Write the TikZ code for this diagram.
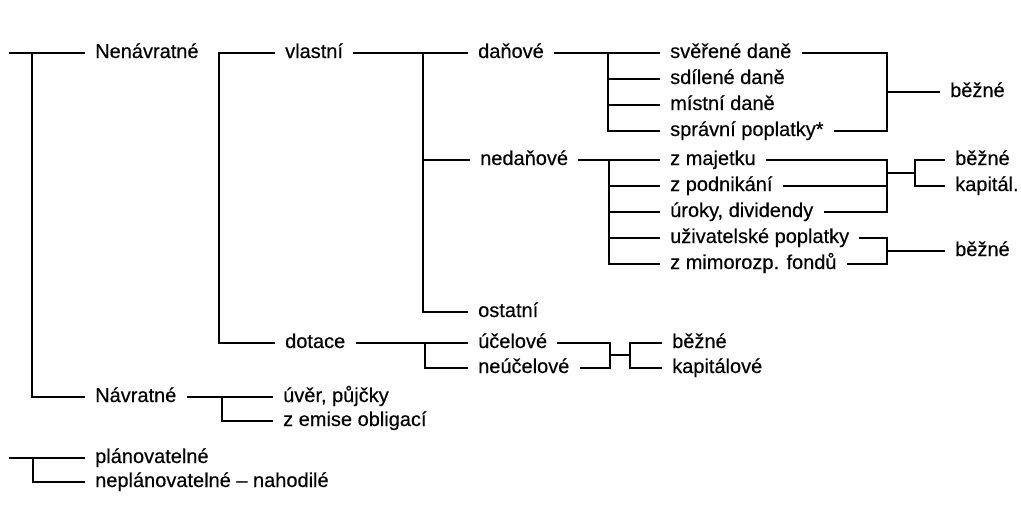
\documentclass[tikz,border=0pt]{standalone}
\usepackage{fontspec}
\setmainfont[FakeBold=0.3]{Liberation Sans}
\begin{document}
\begin{tikzpicture}[x=1pt,y=-1pt,
  lbl/.style={anchor=west,inner xsep=11pt,inner ysep=0pt,text height=10pt,text depth=0pt,font=\fontsize{20}{24}\selectfont},
  ln/.style={line width=1.8pt,line cap=rect}]
\path[use as bounding box,fill=white] (0,0) rectangle (1021,507);
% labels
\node[lbl] (nen)  at (84,53)  {Nenávratné};
\node[lbl] (nav)  at (84,397) {Návratné};
\node[lbl] (vl)   at (274,53) {vlastní};
\node[lbl] (dot)  at (274,343) {dotace};
\node[lbl] (uver) at (272,397) {úvěr, půjčky};
\node[lbl] (emise) at (272,421) {z emise obligací};
\node[lbl] (dan)  at (467,53) {daňové};
\node[lbl] (ned)  at (469,160) {nedaňové};
\node[lbl] (ost)  at (467,312) {ostatní};
\node[lbl] (uc)   at (467,343) {účelové};
\node[lbl] (neuc) at (467,368) {neúčelové};
\node[lbl] (sv)   at (659,53) {svěřené daně};
\node[lbl] (sd)   at (659,79) {sdílené daně};
\node[lbl] (mi)   at (659,105) {místní daně};
\node[lbl] (sp)   at (659,131) {správní poplatky*};
\node[lbl] (zm)   at (659,160) {z majetku};
\node[lbl] (zp)   at (659,186) {z podnikání};
\node[lbl] (ur)   at (659,212) {úroky, dividendy};
\node[lbl] (uz)   at (659,238) {uživatelské poplatky};
\node[lbl] (zmi)  at (659,264) {z mimorozp. fondů};
\node[lbl] (b1)   at (939,92)  {běžné};
\node[lbl] (b2)   at (944,160) {běžné};
\node[lbl] (kap)  at (944,186) {kapitál.};
\node[lbl] (b3)   at (944,251) {běžné};
\node[lbl] (b4)   at (661,343) {běžné};
\node[lbl] (kapv) at (661,368) {kapitálové};
\node[lbl] (plan) at (84,458) {plánovatelné};
\node[lbl] (nepl) at (84,482) {neplánovatelné – nahodilé};
% junction coordinates
\coordinate (t0) at (10,53);
\coordinate (t1) at (32,53);
\coordinate (j2) at (219,53);
\coordinate (j3) at (423,53);
\coordinate (j4) at (608,53);
\coordinate (j5) at (609,160);
\coordinate (j6) at (222,397);
\coordinate (j7) at (425,343);
\coordinate (r1) at (887,92);
\coordinate (r2) at (887,173);
\coordinate (r2b) at (915,173);
\coordinate (r3) at (887,251);
\coordinate (r4) at (610,355);
\coordinate (r4b) at (630,355);
\coordinate (l0) at (10,458);
\coordinate (l1) at (33,458);
% connectors
\draw[ln] (t0) -- (nen.west);
\draw[ln] (t1) |- (nav.west);
\draw[ln] (j2) -- (vl.west);
\draw[ln] (j2) |- (dot.west);
\draw[ln] (vl.east) -- (dan.west);
\draw[ln] (j3) |- (ost.west);
\draw[ln] (j3 |- ned.west) -- (ned.west);
\draw[ln] (dan.east) -- (sv.west);
\draw[ln] (j4) |- (sp.west);
\draw[ln] (j4 |- sd.west) -- (sd.west);
\draw[ln] (j4 |- mi.west) -- (mi.west);
\draw[ln] (ned.east) -- (zm.west);
\draw[ln] (j5) |- (zmi.west);
\draw[ln] (j5 |- zp.west) -- (zp.west);
\draw[ln] (j5 |- ur.west) -- (ur.west);
\draw[ln] (j5 |- uz.west) -- (uz.west);
\draw[ln] (sv.east) -- (sv.east -| r1) -- (sp.east -| r1) -- (sp.east);
\draw[ln] (r1) -- (b1.west);
\draw[ln] (zm.east) -- (zm.east -| r2) -- (ur.east -| r2) -- (ur.east);
\draw[ln] (zp.east) -- (zp.east -| r2);
\draw[ln] (r2) -- (r2b);
\draw[ln] (b2.west) -- (r2b |- b2.west) -- (r2b |- kap.west) -- (kap.west);
\draw[ln] (uz.east) -- (uz.east -| r3) -- (zmi.east -| r3) -- (zmi.east);
\draw[ln] (r3) -- (b3.west);
\draw[ln] (dot.east) -- (uc.west);
\draw[ln] (j7) |- (neuc.west);
\draw[ln] (uc.east) -- (uc.east -| r4) -- (neuc.east -| r4) -- (neuc.east);
\draw[ln] (r4) -- (r4b);
\draw[ln] (b4.west) -- (r4b |- b4.west) -- (r4b |- kapv.west) -- (kapv.west);
\draw[ln] (nav.east) -- (uver.west);
\draw[ln] (j6) |- (emise.west);
\draw[ln] (l0) -- (plan.west);
\draw[ln] (l1) |- (nepl.west);
\end{tikzpicture}
\end{document}
